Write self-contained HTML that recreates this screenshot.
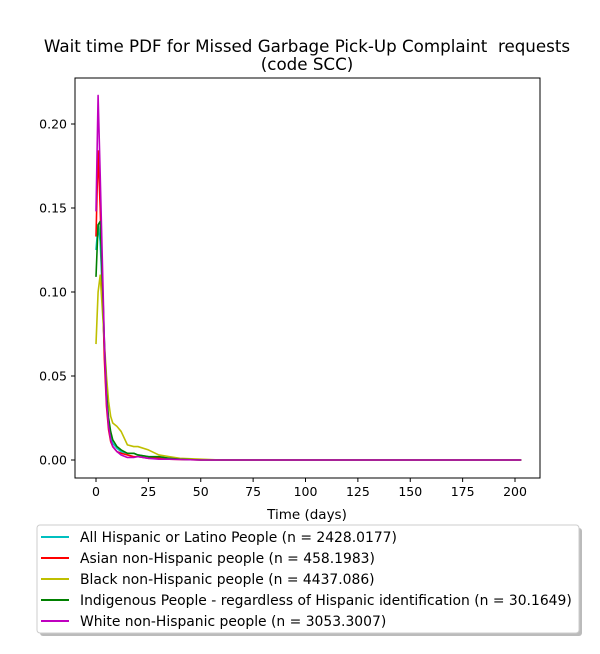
<!DOCTYPE html>
<html><head><meta charset="utf-8"><style>
body{margin:0;background:#fff;font-family:"DejaVu Sans","Liberation Sans",sans-serif;}
svg text{font-family:"DejaVu Sans","Liberation Sans",sans-serif;}
</style></head><body>
<svg id="c" width="600" height="650" xmlns="http://www.w3.org/2000/svg">
<rect width="600" height="650" fill="#fff"/>
<text x="307" y="52" font-size="16.7" text-anchor="middle" xml:space="preserve">Wait time PDF for Missed Garbage Pick-Up Complaint&#160; requests</text>
<text x="307" y="70" font-size="16.7" text-anchor="middle">(code SCC)</text>
<rect x="75" y="78" width="465" height="400" fill="none" stroke="#000" stroke-width="1"/>
<g id="ticks"></g>
<g id="lines"></g>
<text x="307" y="519" font-size="13.5" text-anchor="middle">Time (days)</text>
<g>
<rect x="40" y="528" width="542" height="108" rx="3" fill="#bbb"/>
<rect x="37" y="525" width="542" height="108" rx="3" fill="#fff" stroke="#ccc"/>
<g id="legend"></g>
</g>
</svg>
<script>
const days=[0,1,2,3,4,5,6,7,8,10,12,15,18,20,25,30,35,40,50,60,100,150,203];
const hispanic=[0.125,0.14,0.13,0.1,0.065,0.035,0.022,0.014,0.01,0.007,0.005,0.004,0.004,0.003,0.002,0.001,0.001,0.0005,0.0002,0,0,0,0];
const asian=[0.133,0.184,0.15,0.105,0.06,0.032,0.018,0.011,0.008,0.005,0.004,0.003,0.002,0.002,0.001,0.001,0.0005,0.0003,0,0,0,0,0];
const black=[0.069,0.1,0.11,0.09,0.07,0.05,0.035,0.026,0.022,0.02,0.017,0.009,0.008,0.008,0.006,0.003,0.002,0.001,0.0005,0,0,0,0];
const indigenous=[0.109,0.14,0.142,0.11,0.07,0.04,0.025,0.017,0.012,0.008,0.006,0.004,0.004,0.003,0.002,0.002,0.001,0.0005,0,0,0,0,0];
const white=[0.148,0.217,0.17,0.12,0.07,0.035,0.02,0.012,0.008,0.005,0.003,0.0015,0.0015,0.002,0.001,0.0005,0.0005,0.0003,0,0,0,0,0];
const seriesNames=["All Hispanic or Latino People (n = 2428.0177)","Asian non-Hispanic people (n = 458.1983)","Black non-Hispanic people (n = 4437.086)","Indigenous People - regardless of Hispanic identification (n = 30.1649)","White non-Hispanic people (n = 3053.3007)"];
const seriesKeys=["hispanic","asian","black","indigenous","white"];
const seriesColors=["#00bfbf","#ff0000","#bfbf00","#008000","#bf00bf"];
const xTicks=[0,25,50,75,100,125,150,175,200];
const yTicks=[0,0.05,0.10,0.15,0.20];
const yTickLabels=["0.00","0.05","0.10","0.15","0.20"];
const all=[hispanic,asian,black,indigenous,white];
const NS="http://www.w3.org/2000/svg";
const X=d=>96+d*(515-96)/200;
const Y=v=>460-v*(460-124)/0.2;
const tg=document.getElementById('ticks');
xTicks.forEach(t=>{
 const l=document.createElementNS(NS,'line');l.setAttribute('x1',X(t));l.setAttribute('x2',X(t));l.setAttribute('y1',478);l.setAttribute('y2',482);l.setAttribute('stroke','#000');
 
 
 tg.appendChild(l);
 const s=document.createElementNS(NS,'text');s.setAttribute('x',X(t));s.setAttribute('y',496);s.setAttribute('font-size','12.5');s.setAttribute('text-anchor','middle');s.textContent=t;
 
 
 tg.appendChild(s);
});
yTicks.forEach((t,i)=>{
 const l=document.createElementNS(NS,'line');l.setAttribute('x1',71);l.setAttribute('x2',75);l.setAttribute('y1',Y(t));l.setAttribute('y2',Y(t));l.setAttribute('stroke','#000');
 
 
 tg.appendChild(l);
 const s=document.createElementNS(NS,'text');s.setAttribute('x',67);s.setAttribute('y',Y(t)+4.5);s.setAttribute('font-size','12.5');s.setAttribute('text-anchor','end');s.textContent=yTickLabels[i];
 
 
 tg.appendChild(s);
});
const lg=document.getElementById('lines');
all.forEach((arr,k)=>{
 const p=document.createElementNS(NS,'polyline');
 p.setAttribute('points',days.map((d,i)=>X(d)+','+Y(arr[i])).join(' '));
 p.setAttribute('fill','none');p.setAttribute('stroke',seriesColors[k]);p.setAttribute('stroke-width','1.6');p.setAttribute('stroke-linejoin','round');
 
 
 lg.appendChild(p);
});
const leg=document.getElementById('legend');
seriesNames.forEach((n,k)=>{
 const y=537+k*21;
 const l=document.createElementNS(NS,'line');l.setAttribute('x1',41);l.setAttribute('x2',69);l.setAttribute('y1',y);l.setAttribute('y2',y);l.setAttribute('stroke',seriesColors[k]);l.setAttribute('stroke-width','2');
 
 
 leg.appendChild(l);
 const t=document.createElementNS(NS,'text');t.setAttribute('x',80);t.setAttribute('y',y+5);t.setAttribute('font-size','13.9');t.textContent=n;
 
 
 leg.appendChild(t);
});
</script>
</body></html>
